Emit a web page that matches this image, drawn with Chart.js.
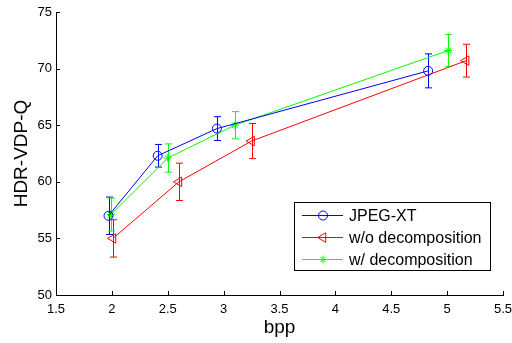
<!DOCTYPE html>
<html lang="en">
<head>
  <meta charset="UTF-8">
  <title>HDR-VDP-Q vs bpp</title>
  <style>
    body {
      margin: 0;
      background: #fff;
    }
    #wrap {
      width: 512px;
      height: 343px;
    }
  </style>
  <script src="https://cdn.jsdelivr.net/npm/chart.js"></script>
</head>
<body>
  <div id="wrap">
    <canvas id="qualityChart" width="512" height="343"></canvas>
  </div>

  <script>
    // values
    const bppJpeg = [1.97, 2.41, 2.94, 4.83];
    const qJpeg = [57.0, 62.3, 64.7, 69.8];
    const errJpeg = [1.65, 1.0, 1.05, 1.5];

    const bppWo = [2.01, 2.60, 3.25, 5.17];
    const qWo = [55.0, 60.0, 63.6, 70.7];
    const errWo = [1.65, 1.65, 1.55, 1.45];

    const bppW = [1.99, 2.50, 3.10, 5.01];
    const qW = [57.1, 62.1, 65.0, 71.6];
    const errW = [1.45, 1.25, 1.2, 1.4];

    const xTicks = [1.5, 2, 2.5, 3, 3.5, 4, 4.5, 5, 5.5];
    const yTicks = [50, 55, 60, 65, 70, 75];

    const FONT = "'Liberation Sans', Arial, sans-serif";

    function toPoints(xs, ys) {
      return xs.map((x, i) => ({ x: x, y: ys[i] }));
    }

    function makeSet(label, xs, ys, errs, color, style, radius, rotation) {
      return {
        label: label,
        data: toPoints(xs, ys),
        errors: errs,
        showLine: true,
        borderColor: color,
        backgroundColor: 'rgba(0,0,0,0)',
        borderWidth: 1,
        pointStyle: style,
        pointRadius: radius,
        pointRotation: rotation,
        pointBorderColor: color,
        pointBackgroundColor: 'rgba(0,0,0,0)',
        pointBorderWidth: 1,
        tension: 0
      };
    }

    // error bars with small caps
    const errorBars = {
      id: 'errorBars',
      beforeDatasetsDraw(chart) {
        const ctx = chart.ctx;
        const xs = chart.scales.x, ys = chart.scales.y;
        chart.data.datasets.forEach(ds => {
          ctx.save();
          ctx.strokeStyle = ds.borderColor;
          ctx.lineWidth = 1;
          ds.data.forEach((p, i) => {
            const px = Math.round(xs.getPixelForValue(p.x)) + 0.5;
            const top = ys.getPixelForValue(p.y + ds.errors[i]);
            const bot = ys.getPixelForValue(p.y - ds.errors[i]);
            ctx.beginPath();
            ctx.moveTo(px, top); ctx.lineTo(px, bot);
            ctx.moveTo(px - 3.5, top); ctx.lineTo(px + 3.5, top);
            ctx.moveTo(px - 3.5, bot); ctx.lineTo(px + 3.5, bot);
            ctx.stroke();
          });
          ctx.restore();
        });
      }
    };

    // inward tick marks like the original plot
    const innerTicks = {
      id: 'innerTicks',
      afterDraw(chart) {
        const ctx = chart.ctx;
        const xs = chart.scales.x, ys = chart.scales.y;
        const a = chart.chartArea;
        ctx.save();
        ctx.strokeStyle = '#000';
        ctx.lineWidth = 1;
        ctx.beginPath();
        xTicks.forEach(v => {
          const px = Math.round(xs.getPixelForValue(v)) + 0.5;
          ctx.moveTo(px, a.bottom); ctx.lineTo(px, a.bottom - 4);
        });
        yTicks.forEach(v => {
          const py = Math.round(ys.getPixelForValue(v)) + 0.5;
          ctx.moveTo(a.left, py); ctx.lineTo(a.left + 4, py);
        });
        ctx.stroke();
        ctx.restore();
      }
    };

    // legend box inside the plot, lower right
    const boxLegend = {
      id: 'boxLegend',
      afterDraw(chart) {
        const ctx = chart.ctx;
        const bx = 294.5, by = 202.5, bw = 196, bh = 68;
        ctx.save();
        ctx.fillStyle = '#fff';
        ctx.fillRect(bx, by, bw, bh);
        ctx.strokeStyle = '#000';
        ctx.lineWidth = 1;
        ctx.strokeRect(bx, by, bw, bh);
        ctx.font = '16px ' + FONT;
        ctx.textBaseline = 'middle';
        chart.data.datasets.forEach((ds, i) => {
          const y = by + 13 + i * 22;
          ctx.strokeStyle = ds.borderColor;
          ctx.fillStyle = 'rgba(0,0,0,0)';
          ctx.beginPath();
          ctx.moveTo(302, y); ctx.lineTo(343, y);
          ctx.stroke();
          Chart.helpers.drawPoint(ctx, {
            pointStyle: ds.pointStyle,
            radius: ds.pointRadius,
            rotation: ds.pointRotation,
            borderWidth: 1
          }, 323, y);
          ctx.fillStyle = '#000';
          ctx.fillText(ds.label, 349, y + 1);
        });
        ctx.restore();
      }
    };

    const qualityChart = new Chart(document.getElementById('qualityChart'), {
      type: 'scatter',
      data: {
        datasets: [
          makeSet('JPEG-XT', bppJpeg, qJpeg, errJpeg, '#0000ff', 'circle', 4.5, 0),
          makeSet('w/o decomposition', bppWo, qWo, errWo, '#ff0000', 'triangle', 5.5, -90),
          makeSet('w/ decomposition', bppW, qW, errW, '#00ff00', 'star', 4, 0)
        ]
      },
      options: {
        responsive: false,
        animation: false,
        layout: { padding: { top: 12, right: 9, left: 0, bottom: 0 } },
        plugins: {
          legend: { display: false },
          tooltip: { enabled: false }
        },
        scales: {
          x: {
            type: 'linear',
            min: 1.5,
            max: 5.5,
            afterFit: s => { s.height = 48; s.paddingLeft = 0; s.paddingRight = 0; },
            afterBuildTicks: s => { s.ticks = xTicks.map(v => ({ value: v })); },
            grid: { display: false, drawTicks: false },
            border: { display: true, color: '#000', width: 1 },
            ticks: {
              padding: 7,
              color: '#000',
              font: { family: FONT, size: 13 },
              maxRotation: 0,
              callback: v => String(v)
            },
            title: {
              display: true,
              text: 'bpp',
              color: '#000',
              font: { family: FONT, size: 19 },
              padding: { bottom: 4 }
            }
          },
          y: {
            type: 'linear',
            min: 50,
            max: 75,
            afterFit: s => { s.width = 56; s.paddingTop = 0; s.paddingBottom = 0; },
            afterBuildTicks: s => { s.ticks = yTicks.map(v => ({ value: v })); },
            grid: { display: false, drawTicks: false },
            border: { display: true, color: '#000', width: 1 },
            ticks: {
              padding: 4,
              color: '#000',
              font: { family: FONT, size: 13 }
            },
            title: {
              display: true,
              text: 'HDR-VDP-Q',
              color: '#000',
              font: { family: FONT, size: 19 },
              padding: { top: 10 }
            }
          }
        }
      },
      plugins: [errorBars, innerTicks, boxLegend]
    });
  </script>
</body>
</html>
